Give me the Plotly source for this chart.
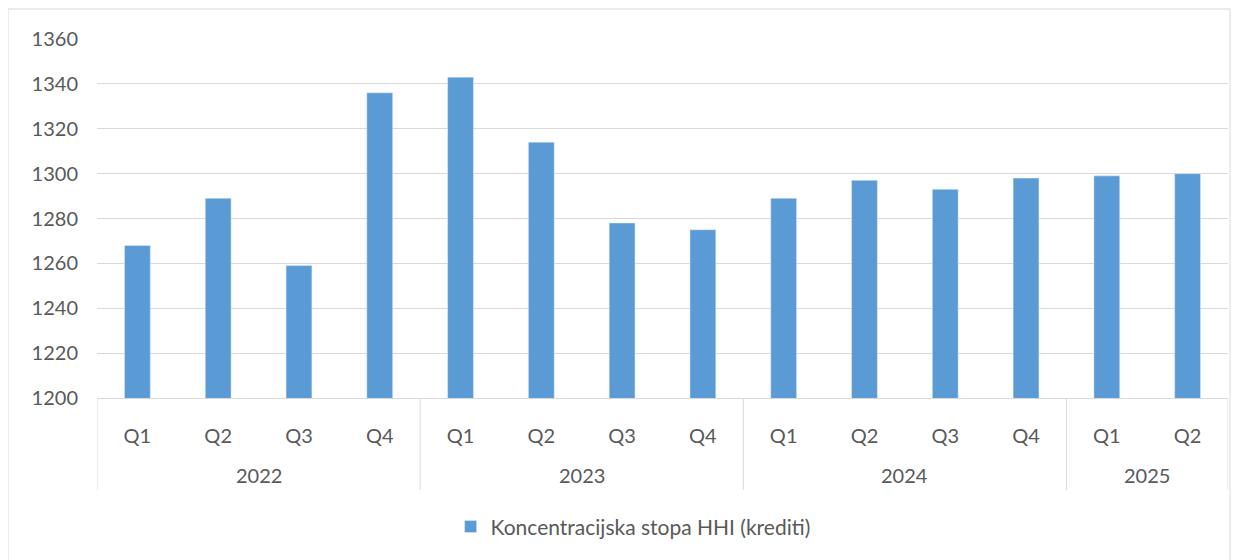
import plotly.graph_objects as go

# podaci
godine = ['2022'] * 4 + ['2023'] * 4 + ['2024'] * 4 + ['2025'] * 2
kvartali = ['Q1', 'Q2', 'Q3', 'Q4', 'Q1', 'Q2', 'Q3', 'Q4',
            'Q1', 'Q2', 'Q3', 'Q4', 'Q1', 'Q2']
hhi_krediti = [1268, 1289, 1259, 1336, 1343, 1314, 1278, 1275,
               1289, 1297, 1293, 1298, 1299, 1300]
y_ticks = [1200, 1220, 1240, 1260, 1280, 1300, 1320, 1340, 1360]

font = 'Lato, Calibri, Arial, sans-serif'
siva = '#595959'
linija = '#D9D9D9'

pozicije = list(range(len(kvartali)))

fig = go.Figure()

fig.add_trace(go.Bar(
    x=pozicije,
    y=hhi_krediti,
    name='Koncentracijska stopa HHI (krediti)',
    marker_color='#5B9BD5',
    width=0.32,
    customdata=[g + ' ' + q for g, q in zip(godine, kvartali)],
    hovertemplate='%{customdata}: %{y}<extra></extra>',
))

# stranica ima 8px margine, pa je figura manja
fig.update_layout(
    width=1238,
    height=552,
    margin=dict(l=89, r=18, t=31, b=162),
    plot_bgcolor='white',
    paper_bgcolor='white',
    font=dict(family=font, size=19, color=siva),
    showlegend=True,
    legend=dict(
        orientation='h',
        x=0.474, xanchor='center',
        y=-0.359, yanchor='middle',
        font=dict(size=21, color=siva),
        itemwidth=30,
    ),
)

fig.update_yaxes(
    range=[1200, 1360],
    tickvals=y_ticks,
    showgrid=True,
    gridcolor=linija,
    gridwidth=1,
    zeroline=False,
    showline=False,
    ticks='',
    ticklabelstandoff=18,
    tickfont=dict(size=20, color=siva),
)

fig.update_xaxes(
    range=[-0.5, len(kvartali) - 0.5],
    tickvals=pozicije,
    ticktext=kvartali,
    showline=True,
    linecolor=linija,
    linewidth=1,
    showgrid=False,
    zeroline=False,
    ticks='',
    ticklabelstandoff=20,
    tickfont=dict(size=20, color=siva),
)

# godine ispod kvartala i razdjelnici grupa
granice = [-0.5]
for i in range(1, len(godine)):
    if godine[i] != godine[i - 1]:
        granice.append(i - 0.5)
granice.append(len(godine) - 0.5)

for a, b in zip(granice[:-1], granice[1:]):
    fig.add_annotation(
        text=godine[int(a + 0.5)],
        xref='x', yref='paper',
        x=(a + b) / 2, y=-0.2145, xanchor='center', yanchor='middle',
        showarrow=False,
        font=dict(size=20, color=siva, family=font),
    )

for g in granice:
    fig.add_shape(
        type='line', xref='x', yref='paper',
        x0=g, x1=g, y0=0, y1=-0.2563,
        line=dict(color=linija, width=1),
    )

# okvir grafikona
fig.add_shape(
    type='rect', xref='paper', yref='paper',
    x0=-0.0787, x1=1.0018, y0=-0.5, y1=1.0836,
    line=dict(color=linija, width=1), fillcolor='rgba(0,0,0,0)',
    layer='below',
)

# naslov (odrezan na vrhu slike)
fig.add_annotation(
    text='Grafikon 4. Koncentracija kredita (HHI)',
    xref='paper', yref='paper',
    x=0.415, y=1.12, xanchor='center', yanchor='middle',
    showarrow=False,
    font=dict(size=20, color='#404040', family=font),
)

fig.write_html('out.html')
